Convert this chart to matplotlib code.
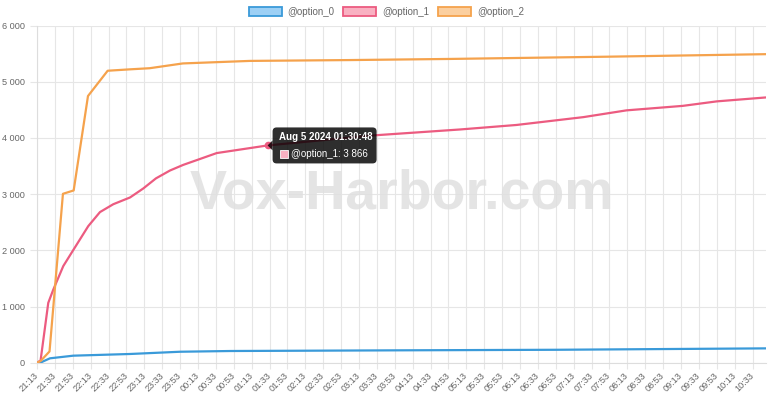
import matplotlib
matplotlib.use("Agg")
import matplotlib.pyplot as plt
from matplotlib.patches import Patch, FancyBboxPatch, Polygon, Rectangle

plt.rcParams['font.family'] = ['Liberation Sans', 'DejaVu Sans']

# ---- data (minutes after 21:13) ----
t_opt0 = [0, 5, 14.5, 40.6, 104, 160, 216, 402, 581, 815]
v_opt0 = [0, 10, 78, 125, 155, 195, 208, 220, 230, 255]

t_opt1 = [0, 4, 12.6, 18.2, 29.4, 38.8, 57.3, 70.4, 85.3, 104, 118.8, 133, 148.7,
          163.5, 200.9, 257.8, 372, 473, 536, 611, 659, 722, 760, 815]
v_opt1 = [0, 40, 1065, 1300, 1720, 1960, 2430, 2680, 2820, 2940, 3100, 3280, 3420,
          3520, 3730, 3866, 4040, 4150, 4230, 4370, 4490, 4570, 4650, 4720]

t_opt2 = [0, 4, 14, 29, 41, 57, 79, 104, 126, 163, 238, 350, 462, 638, 815]
v_opt2 = [0, 30, 200, 3005, 3065, 4745, 5195, 5220, 5240, 5325, 5370, 5385,
          5405, 5445, 5490]

series_names = ['@option_0', '@option_1', '@option_2']

x_tick_labels = ['21:13', '21:33', '21:53', '22:13', '22:33', '22:53', '23:13', '23:33',
                 '23:53', '00:13', '00:33', '00:53', '01:13', '01:33', '01:53', '02:13',
                 '02:33', '02:53', '03:13', '03:33', '03:53', '04:13', '04:33', '04:53',
                 '05:13', '05:33', '05:53', '06:13', '06:33', '06:53', '07:13', '07:33',
                 '07:53', '08:13', '08:33', '08:53', '09:13', '09:33', '09:53', '10:13',
                 '10:33']
x_tick_step = 20
y_ticks = [0, 1000, 2000, 3000, 4000, 5000, 6000]
y_tick_labels = ['0', '1 000', '2 000', '3 000', '4 000', '5 000', '6 000']

tooltip_title = 'Aug 5 2024 01:30:48'
tooltip_series = '@option_1'
tooltip_t = 257.8
tooltip_v = 3866
tooltip_text = '3 866'

watermark = 'Vox-Harbor.com'

# ---- style ----
line_colors = ['#3a9ad9', '#ec5b80', '#f5a24c']
fill_colors = ['#9dd0f5', '#f9b1c2', '#fbcf9f']
grid_color = '#e6e6e6'
label_color = '#666666'

fig = plt.figure(figsize=(7.68, 4.0), dpi=100)
ax = fig.add_axes([37 / 768, 1 - 362.7 / 400, 729 / 768, 337.2 / 400])

series = [(t_opt0, v_opt0), (t_opt1, v_opt1), (t_opt2, v_opt2)]
for (t, v), c in zip(series, line_colors):
    ax.plot(t, v, color=c, lw=1.6, zorder=3, solid_joinstyle='round')

ax.set_xlim(0, 815)
ax.set_ylim(0, 6000)
xt = [i * x_tick_step for i in range(len(x_tick_labels))]
ax.set_xticks(xt)
ax.set_xticklabels(x_tick_labels, rotation=45, ha='right', va='center',
                   rotation_mode='anchor', fontsize=6.6, color=label_color)
ax.set_yticks(y_ticks)
ax.set_yticklabels(y_tick_labels, fontsize=6.6, color=label_color)
ax.tick_params(axis='x', length=4, color=grid_color, pad=4)
ax.tick_params(axis='y', length=5, color=grid_color, pad=4)
ax.grid(True, color=grid_color, lw=0.8, zorder=0)
ax.set_axisbelow(True)
for s in ['top', 'right']:
    ax.spines[s].set_visible(False)
for s in ['left', 'bottom']:
    ax.spines[s].set_color('#dddddd')
    ax.spines[s].set_linewidth(0.8)

# legend
handles = [Patch(facecolor=f, edgecolor=c, lw=1.3) for f, c in zip(fill_colors, line_colors)]
leg = fig.legend(handles, series_names, loc='upper center', bbox_to_anchor=(0.503, 1.005),
                 ncol=3, frameon=False, fontsize=7, handlelength=3.4, handleheight=0.95,
                 handletextpad=0.6, columnspacing=0.9, labelcolor=label_color)

# watermark
ax.text(0.5, 0.50, watermark, transform=ax.transAxes, ha='center', va='center',
        fontsize=40, fontweight='bold', color='#e0e0e0', alpha=0.85, zorder=2)

# tooltip
fig.canvas.draw()
px, py = ax.transData.transform((tooltip_t, tooltip_v))
ax.plot([tooltip_t], [tooltip_v], 'o', ms=4.5, color=line_colors[1], zorder=4)
bx0 = px + 5
bw, bh = 104, 36
box = FancyBboxPatch((bx0, py - bh / 2), bw, bh, boxstyle='round,pad=0,rounding_size=4',
                     facecolor='black', alpha=0.82, edgecolor='none', transform=None, zorder=10)
fig.patches.append(box)
caret = Polygon([[bx0, py + 5], [bx0 - 5, py], [bx0, py - 5]], closed=True,
                facecolor='black', alpha=0.82, edgecolor='none', transform=None, zorder=10)
fig.patches.append(caret)
fig.text((bx0 + 6) / 768, (py + 8) / 400, tooltip_title, color='white', fontsize=7,
         fontweight='bold', ha='left', va='center', zorder=11)
sq = Rectangle((bx0 + 7, py - 13), 8, 8, facecolor=fill_colors[1], edgecolor='white',
               lw=0.6, transform=None, zorder=11)
fig.patches.append(sq)
fig.text((bx0 + 18) / 768, (py - 9) / 400, f'{tooltip_series}: {tooltip_text}', color='white',
         fontsize=7, ha='left', va='center', zorder=11)

fig.savefig('out.png', dpi=100)
